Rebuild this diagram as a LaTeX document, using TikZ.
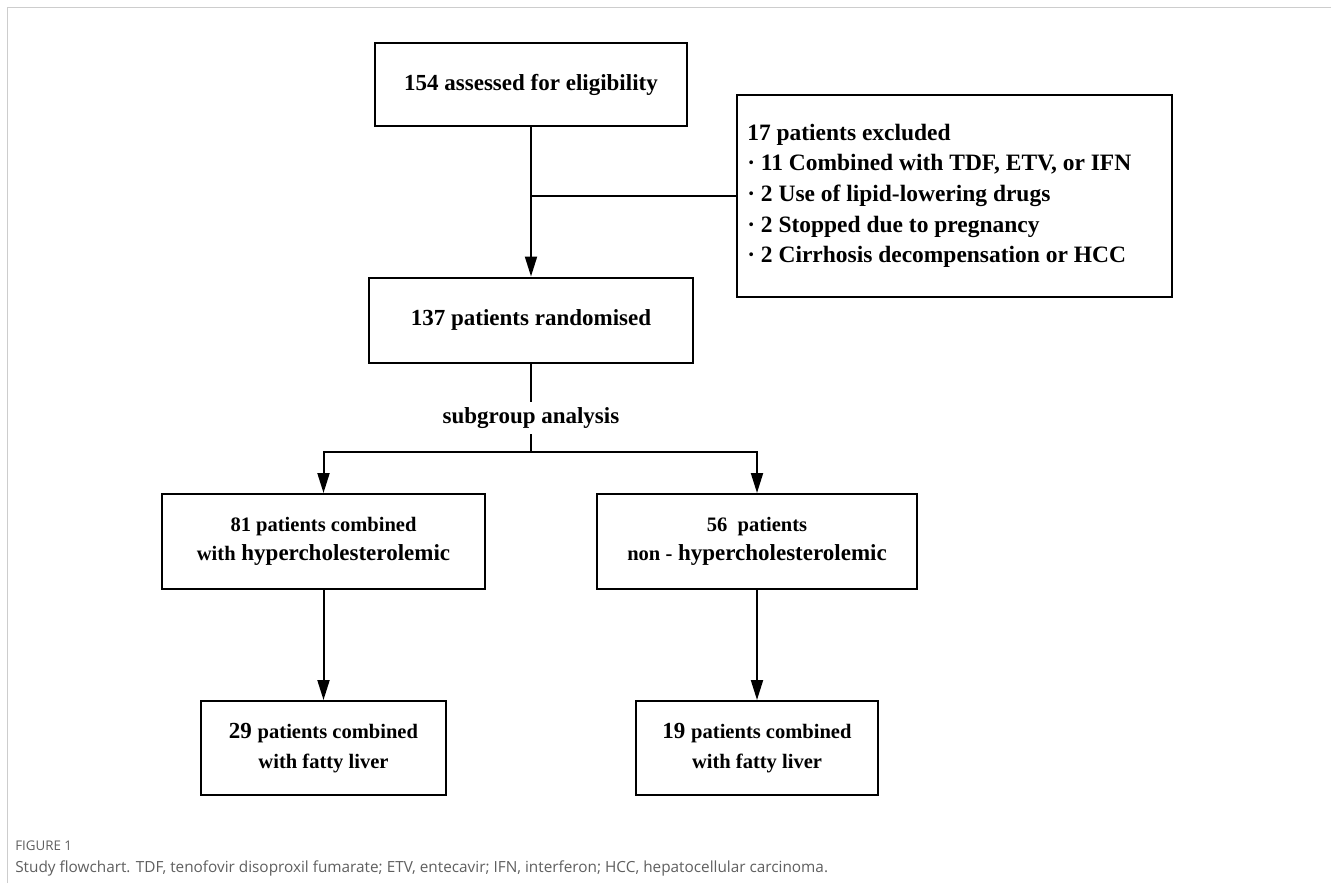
\documentclass[tikz,border=0pt]{standalone}
\usepackage{fontspec}
\setmainfont{Liberation Serif}
\newfontfamily\capfont{Open Sans}
\usetikzlibrary{arrows.meta}
\definecolor{framegray}{RGB}{205,205,205}
\definecolor{capgray}{RGB}{95,95,95}
\newcommand{\sm}{\fontsize{15.4}{22}\selectfont}
\begin{document}
\begin{tikzpicture}[x=0.75pt,y=-0.75pt,
    box/.style={draw, line width=1.5pt, inner sep=0pt, align=center,
      font=\bfseries\fontsize{17.25}{22}\selectfont},
    flow/.style={line width=1.5pt, -{Triangle[length=15pt,width=9pt]}},
    link/.style={line width=1.5pt},
    caption/.style={anchor=west, inner sep=0pt, text=capgray}]
  \useasboundingbox (0,0) rectangle (1331,883);
  \draw[framegray, line width=0.75pt] (7,883) -- (7,7) -- (1331,7);

  % main column
  \node[box, minimum width=234pt, minimum height=62.25pt] (elig) at (531,84.5)
    {154 assessed for eligibility};
  \node[box, minimum width=243pt, minimum height=63.75pt] (rand) at (531,320)
    {137 patients randomised};
  \node[box, minimum width=326.25pt, minimum height=151.5pt] (excl) at (954.5,196) {};
  \node[anchor=west, align=left, inner sep=0pt,
    font=\bfseries\fontsize{17.6}{23}\selectfont] (excltext) at (747,196)
    {17 patients excluded\\
     · 11 Combined with TDF, ETV, or IFN\\
     · 2 Use of lipid-lowering drugs\\
     · 2 Stopped due to pregnancy\\
     · 2 Cirrhosis decompensation or HCC};
  \node[font=\bfseries\fontsize{17.25}{20}\selectfont, inner sep=4pt] (sub) at (531,418)
    {subgroup analysis};
  \coordinate (split) at (531,452);

  % subgroups
  \node[box, minimum width=242.25pt, minimum height=71.25pt] (hyp) at (323.5,541.5)
    {{\sm 81 patients combined}\\{\sm with} hypercholesterolemic};
  \node[box, minimum width=240pt, minimum height=71.25pt] (nonhyp) at (757,541.5)
    {{\sm 56~~patients}\\{\sm non -} hypercholesterolemic};
  \node[box, minimum width=183.75pt, minimum height=70.5pt] (hypfat) at (323.5,748)
    {29 {\sm patients combined}\\{\sm with fatty liver}};
  \node[box, minimum width=181.5pt, minimum height=70.5pt] (nonfat) at (757,748)
    {19 {\sm patients combined}\\{\sm with fatty liver}};

  % connectors
  \draw[flow] (elig) -- (rand);
  \draw[link] (excl.west) -- (excl.west -| elig.south);
  \draw[link] (rand) -- (sub);
  \draw[link] (sub) -- (split);
  \draw[flow] (split) -| (hyp);
  \draw[flow] (split) -| (nonhyp);
  \draw[flow] (hyp) -- (hypfat);
  \draw[flow] (nonhyp) -- (nonfat);

  % caption
  \node[caption, font=\capfont\fontsize{10}{12}\selectfont] (figlabel) at (15,846) {FIGURE 1};
  \node[caption, font=\capfont\fontsize{11.5}{13}\selectfont] (captext) at (15,868)
    {Study flowchart. TDF, tenofovir disoproxil fumarate; ETV, entecavir; IFN, interferon; HCC, hepatocellular carcinoma.};
\end{tikzpicture}
\end{document}
